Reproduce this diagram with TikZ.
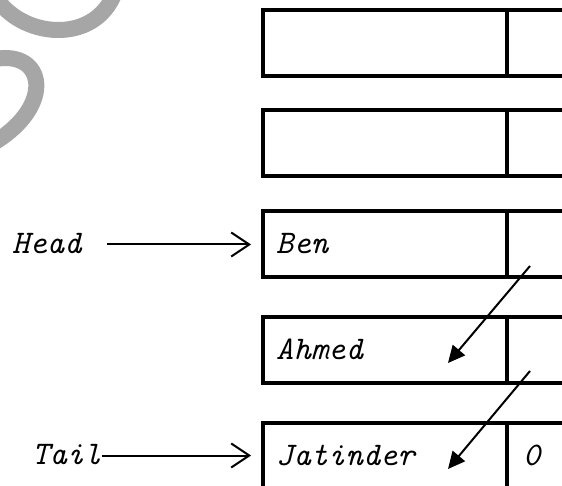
\documentclass[tikz,border=0pt]{standalone}
\usepackage{fontspec}
\usetikzlibrary{arrows.meta}
\definecolor{ringgray}{HTML}{A6A6A6}
\begin{document}
\begin{tikzpicture}[x=1pt,y=-1pt,
  cell/.style={draw=black,line width=4pt,rectangle,inner sep=0pt,outer sep=0pt},
  datacell/.style={cell,minimum width=244pt,minimum height=66pt},
  ptrcell/.style={cell,minimum width=120pt,minimum height=66pt},
  lbl/.style={font=\fontsize{33}{33}\selectfont\ttfamily\itshape,inner sep=0pt,anchor=west},
  ring/.style={draw=ringgray,line width=16pt},
  ptr/.style={line width=2pt,-{Triangle[length=17pt,width=16pt]}},
  ext/.style={line width=2pt,-{Straight Barb[length=18pt,width=24pt]},shorten >=12pt}
]
\useasboundingbox (0,0) rectangle (562,486);
\clip (0,0) rectangle (562,486);
\fill[white] (0,0) rectangle (562,486);

% grey watermark strokes
\draw[ring] (-5,-4) .. controls (20,38) and (95,46) .. (115,-8);
\draw[ring] (-5,59) .. controls (45,50) and (55,105) .. (-5,142);

% list cells
\node[datacell] (b1d) at (385,43.5) {};
\node[ptrcell]  (b1p) at (567,43.5) {};
\node[datacell] (b2d) at (385,143.5) {};
\node[ptrcell]  (b2p) at (567,143.5) {};
\node[datacell] (b3d) at (385,244.5) {};
\node[ptrcell]  (b3p) at (567,244.5) {};
\node[datacell] (b4d) at (385,349.5) {};
\node[ptrcell]  (b4p) at (567,349.5) {};
\node[datacell] (b5d) at (385,455.5) {};
\node[ptrcell]  (b5p) at (567,455.5) {};

% texts
\node[lbl] (ben) at (276,244) {Ben};
\node[lbl] (ahmed) at (276,349) {Ahmed};
\node[lbl] (jat) at (276,455) {Jatinder};
\node[lbl] (zero) at (523,455) {0};
\node[lbl] (head) at (12,244) {Head};
\node[lbl] (tail) at (32,455) {Tail};

% external pointers
\coordinate (hs) at (107,244.5);
\draw[ext] (hs) -- (b3d.west);
\draw[ext] (tail.east |- b5d.west) -- (b5d.west);

% next pointers
\coordinate (p1) at (530,266);
\coordinate (t1) at (448,363);
\coordinate (p2) at (530,371);
\coordinate (t2) at (448,469);
\draw[ptr] (p1) -- (t1);
\draw[ptr] (p2) -- (t2);
\end{tikzpicture}
\end{document}
